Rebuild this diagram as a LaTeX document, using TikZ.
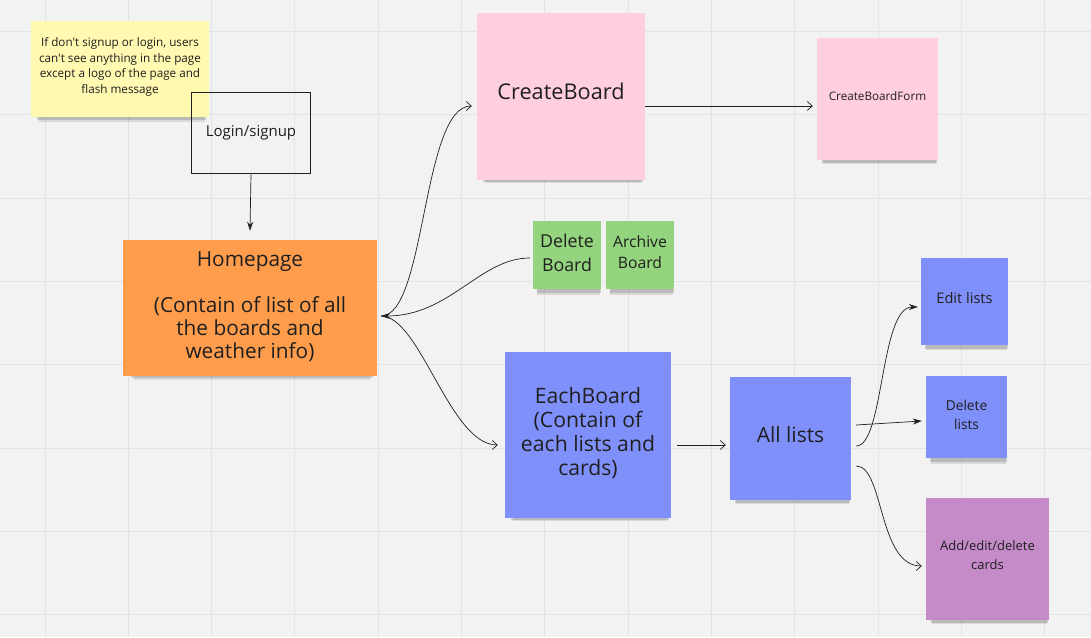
\documentclass[tikz,border=0pt]{standalone}
\usepackage{fontspec}
\setmainfont{Open Sans}[Ligatures=TeXOff]
\usetikzlibrary{arrows.meta,shadows}
\definecolor{bgc}{HTML}{F2F2F2}
\definecolor{gridc}{HTML}{E3E3E3}
\definecolor{textc}{HTML}{1F1F1F}
\definecolor{yellowc}{HTML}{FFF9B1}
\definecolor{orangec}{HTML}{FF9D4D}
\definecolor{pinkc}{HTML}{FFCEE0}
\definecolor{greenc}{HTML}{94D47E}
\definecolor{bluec}{HTML}{8090FA}
\definecolor{purplec}{HTML}{C48BC8}
\tikzset{
  sticky/.style={draw=none, align=center, inner sep=0pt, text=textc,
    drop shadow={shadow xshift=2pt, shadow yshift=-9pt, opacity=0.10, fill=black, shadow scale=0.93},
    drop shadow={shadow xshift=2pt, shadow yshift=-6pt, opacity=0.14, fill=black, shadow scale=0.95}},
  conn/.style={draw=textc, line width=0.7pt},
  openarrow/.style={-{Straight Barb[length=5pt,width=9pt,line width=0.7pt]}},
  fillarrow/.style={-{Stealth[length=9pt,width=6pt]}},
}
\begin{document}
\begin{tikzpicture}[x=1pt,y=-1pt]
\useasboundingbox (0,0) rectangle (1091,637);
\fill[bgc] (0,0) rectangle (1091,637);
\foreach \k in {0,...,12} {\draw[gridc, line width=1pt] ({45+83.33*\k},0) -- ({45+83.33*\k},637);}
\foreach \k in {0,...,7} {\draw[gridc, line width=1pt] (0,{31.5+83.33*\k}) -- (1091,{31.5+83.33*\k});}

% notes
\node[sticky, fill=yellowc, minimum width=178pt, minimum height=96pt,
  font=\fontsize{11.7}{15.5}\selectfont] (note) at (120,69)
  {If don't signup or login, users\\can't see anything in the page\\except a logo of the page and\\flash message\\[-8.5pt]};
\node[draw=textc, line width=1.6pt, minimum width=119pt, minimum height=81pt, inner sep=0pt,
  text=textc, font=\fontsize{15}{18}\selectfont] (login) at (251,133) {Login/signup\\[-14pt]};
\node[sticky, fill=orangec, minimum width=254pt, minimum height=136pt,
  font=\fontsize{20.8}{23}\selectfont] (hp) at (250,308)
  {Homepage\\[23pt](Contain of list of all\\the boards and\\weather info)\\[-18pt]};
\node[sticky, fill=pinkc, minimum width=168pt, minimum height=167pt,
  font=\fontsize{21.7}{26}\selectfont] (cb) at (561,96.5) {CreateBoard\\[-16pt]};
\node[sticky, fill=pinkc, minimum width=121pt, minimum height=122pt,
  font=\fontsize{11.7}{14}\selectfont] (cbf) at (877.5,99) {CreateBoardForm\\[-8pt]};
\node[sticky, fill=greenc, minimum width=68pt, minimum height=68pt,
  font=\fontsize{17.8}{24}\selectfont] (db) at (567,255) {Delete\\Board\\[-20pt]};
\node[sticky, fill=greenc, minimum width=68pt, minimum height=68pt,
  font=\fontsize{15.7}{21}\selectfont] (ab) at (640,255) {Archive\\Board\\[-16pt]};
\node[sticky, fill=bluec, minimum width=166pt, minimum height=166pt,
  font=\fontsize{21.2}{24}\selectfont] (eb) at (588,435)
  {EachBoard\\(Contain of\\each lists and\\cards)\\[-17pt]};
\node[sticky, fill=bluec, minimum width=121pt, minimum height=123pt,
  font=\fontsize{21}{24}\selectfont] (al) at (790.5,438.5) {All lists\\[-17pt]};
\node[sticky, fill=bluec, minimum width=87pt, minimum height=87pt,
  font=\fontsize{14.6}{18}\selectfont] (el) at (964.5,301.5) {Edit lists\\[-11pt]};
\node[sticky, fill=bluec, minimum width=81pt, minimum height=82pt,
  font=\fontsize{13.7}{19}\selectfont] (dl) at (966.5,417) {Delete\\lists\\[-14pt]};
\node[sticky, fill=purplec, minimum width=123pt, minimum height=122pt,
  font=\fontsize{13}{18.5}\selectfont] (ac) at (987.5,559) {Add/edit/delete\\cards\\[-10.5pt]};

% connectors
\draw[conn, fillarrow] (login.south) -- ([yshift=9pt]hp.north);
\draw[conn, openarrow] ([xshift=4pt,yshift=-8pt]hp.east) .. controls (426,316) and (422,106) .. ([xshift=-5pt,yshift=-9.5pt]cb.west);
\draw[conn, fillarrow] ([xshift=-3pt,yshift=-3pt]db.west) .. controls (480,258) and (450,316) .. ([xshift=4pt,yshift=-8pt]hp.east);
\draw[conn, openarrow] ([xshift=4pt,yshift=-8pt]hp.east) .. controls (420,316) and (450,445) .. ([xshift=-7pt,yshift=-10pt]eb.west);
\draw[conn, openarrow] ([yshift=-9.5pt]cb.east) -- ([xshift=-4pt,yshift=-7pt]cbf.west);
\draw[conn, openarrow] ([xshift=6pt,yshift=-10pt]eb.east) -- ([xshift=-4pt,yshift=-6.5pt]al.west);
\draw[conn, fillarrow] ([xshift=5pt,yshift=-7.5pt]al.east) .. controls (884,446) and (880,307) .. ([xshift=-3pt,yshift=-5.5pt]el.west);
\draw[conn, fillarrow] ([xshift=5pt,yshift=13.5pt]al.east) -- ([xshift=-4pt,yshift=-4pt]dl.west);
\draw[conn, openarrow] ([xshift=5pt,yshift=-27.5pt]al.east) .. controls (884,466) and (878,566) .. ([xshift=-4pt,yshift=-7pt]ac.west);
\end{tikzpicture}
\end{document}
